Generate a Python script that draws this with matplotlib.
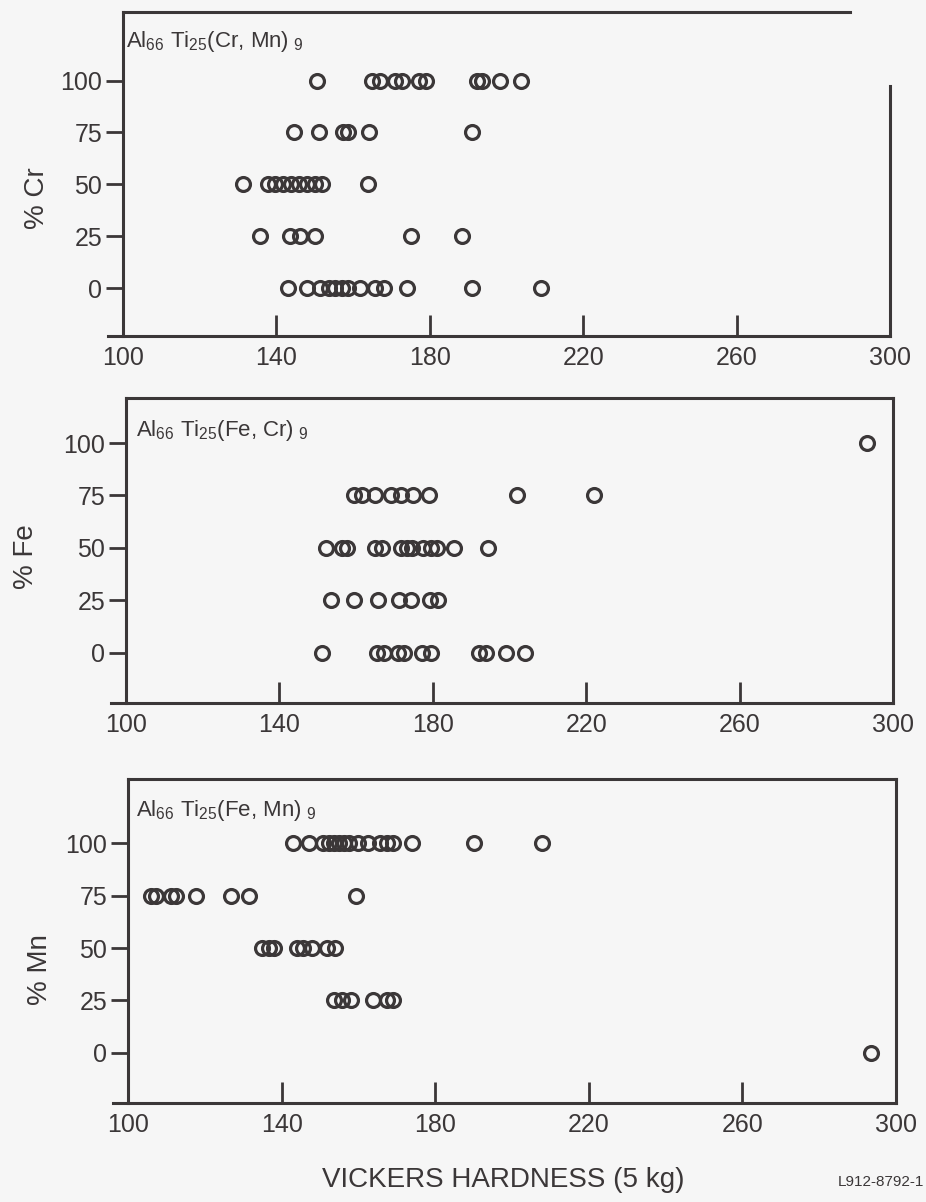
import matplotlib.pyplot as plt

plt.rcParams['font.family'] = ['Liberation Sans Narrow', 'Liberation Sans', 'DejaVu Sans']
plt.rcParams['mathtext.fontset'] = 'custom'
plt.rcParams['mathtext.rm'] = 'Liberation Sans'
plt.rcParams['mathtext.default'] = 'regular'

# --- data (Vickers hardness per composition row) ---
levels = [0, 25, 50, 75, 100]
x_ticks = [100, 140, 180, 220, 260, 300]

# Al66 Ti25 (Cr, Mn)9
cr_0 = [142.9, 148.0, 151.4, 153.6, 155.4, 157.1, 158.8, 161.9, 165.8, 168.0, 174.1, 191.0, 208.9]
cr_25 = [135.8, 143.6, 146.2, 150.1, 175.2, 188.3]
cr_50 = [131.4, 137.9, 139.7, 141.7, 143.8, 145.8, 148.0, 150.1, 151.9, 163.9]
cr_75 = [144.7, 151.2, 157.4, 158.6, 164.2, 191.0]
cr_100 = [150.6, 164.9, 166.9, 171.0, 172.8, 177.1, 178.9, 192.3, 193.6, 198.4, 203.8]

# Al66 Ti25 (Fe, Cr)9
fe_0 = [151.2, 165.5, 167.3, 171.0, 172.5, 177.3, 179.5, 192.1, 194.0, 199.0, 204.1]
fe_25 = [153.5, 159.4, 165.8, 171.2, 174.2, 179.3, 181.4]
fe_50 = [152.2, 156.4, 157.7, 164.8, 166.8, 171.6, 173.2, 174.7, 177.5, 179.5, 181.2, 185.4, 194.3]
fe_75 = [159.4, 161.6, 164.8, 169.0, 171.6, 174.9, 179.0, 201.9, 222.0]
fe_100 = [293.2]

# Al66 Ti25 (Fe, Mn)9
mn_0 = [293.4]
mn_25 = [153.6, 155.7, 158.1, 163.8, 167.4, 169.0]
mn_50 = [134.9, 136.6, 137.9, 144.0, 145.7, 147.9, 151.8, 154.0]
mn_75 = [105.9, 107.4, 111.1, 112.6, 117.7, 126.7, 131.4, 159.5]
mn_100 = [143.0, 147.2, 150.7, 152.4, 153.7, 155.0, 156.3, 157.6, 159.8, 162.4,
          165.5, 167.5, 169.0, 174.0, 190.0, 207.9]

INK = '#3b3738'
BG = '#f6f6f6'
W, H = 926, 1202

fig = plt.figure(figsize=(W / 100, H / 100), dpi=100, facecolor=BG)


def panel(box, rows, ylim, ylabel, ylabel_xy, title, title_xy):
    l, t, r, b = box
    ax = fig.add_axes([l / W, 1 - b / H, (r - l) / W, (b - t) / H])
    ax.set_facecolor(BG)
    for pct, vals in zip(levels, rows):
        ax.plot(vals, [pct] * len(vals), 'o', mfc='none', mec=INK, ms=10, mew=2.3,
                clip_on=False)
    ax.set_xlim(100, 300)
    ax.set_ylim(*ylim)
    ax.set_xticks(x_ticks)
    ax.set_yticks(levels)
    ax.tick_params(axis='x', direction='in', length=15, width=2, color=INK,
                   labelsize=18, labelcolor=INK, pad=7)
    ax.tick_params(axis='y', direction='out', length=12, width=2, color=INK,
                   labelsize=18, labelcolor=INK, pad=3)
    for s in ax.spines.values():
        s.set_linewidth(2.2)
        s.set_color(INK)
    ax.spines['bottom'].set_bounds(96, 300)
    fig.text(ylabel_xy[0] / W, 1 - ylabel_xy[1] / H, ylabel, rotation=90,
             ha='center', va='center', fontsize=20, color=INK)
    fig.text(title_xy[0] / W, 1 - title_xy[1] / H, title, ha='left', va='baseline',
             fontsize=16, color=INK)
    return ax


ax1 = panel((123, 12, 890, 336), [cr_0, cr_25, cr_50, cr_75, cr_100], (-23, 133),
            '% Cr', (37, 198), r'Al$_{66}$ Ti$_{25}$(Cr, Mn)$_{\ 9}$', (126, 47))
# top and right border are broken in the original drawing
ax1.spines['top'].set_bounds(100, 289.6)
ax1.spines['right'].set_bounds(-23, 97.6)

ax2 = panel((126, 398, 893, 703), [fe_0, fe_25, fe_50, fe_75, fe_100], (-24, 121.5),
            '% Fe', (26, 557), r'Al$_{66}$ Ti$_{25}$(Fe, Cr)$_{\ 9}$', (136, 436))

ax3 = panel((128, 779, 896, 1103), [mn_0, mn_25, mn_50, mn_75, mn_100], (-24, 130.7),
            '% Mn', (40, 970), r'Al$_{66}$ Ti$_{25}$(Fe, Mn)$_{\ 9}$', (136, 816))

fig.text(503 / W, 1 - 1180 / H, 'VICKERS HARDNESS (5 kg)', ha='center', va='center',
         fontsize=20, color=INK)
fig.text(924 / W, 1 - 1182 / H, 'L912-8792-1', ha='right', va='center',
         fontsize=11, color=INK)

fig.savefig('out.png', dpi=100, facecolor=BG)
